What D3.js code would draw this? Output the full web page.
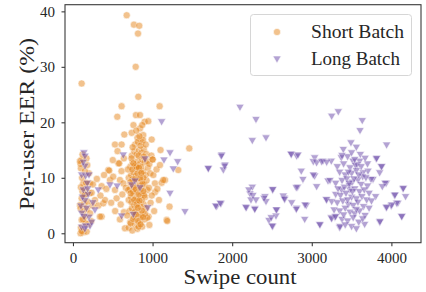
<!DOCTYPE html>
<html>
<head>
<meta charset="utf-8">
<script src="https://cdn.jsdelivr.net/npm/d3@7"></script>
<style>
  html, body { margin: 0; padding: 0; background: #fff; }
  svg { display: block; }
  text { font-family: "Liberation Serif", "DejaVu Serif", serif; fill: #262626; }
</style>
</head>
<body>
<svg id="chart" width="426" height="292"></svg>
<script>
// ---------- data ----------
const seriesNames = ["Short Batch", "Long Batch"];
const xTicks = [0, 1000, 2000, 3000, 4000];
const yTicks = [0, 10, 20, 30, 40];
const xLabel = "Swipe count";
const yLabel = "Per-user EER (%)";

const shortSwipes = [
  675,766,833,817,788,109,821,611,1089,557,791,842,900,946,842,737,645,883,989,528,1461,760,860,810,
  109,100,130,109,88,130,109,130,172,214,201,276,360,120,95,150,160,120,140,95,175,150,100,190,230,245,210,180,115,140,100,250,185,160,125,95,170,215,88,163,151,109,
  235,318,339,381,402,360,444,456,465,528,548,570,582,590,632,653,611,500,420,480,530,600,640,390,300,560,610,620,505,345,640,590,665,
  700,720,745,780,810,840,870,900,760,800,830,880,710,740,770,795,820,850,890,920,700,730,760,790,815,845,875,905,935,
  715,745,775,805,835,865,895,925,955,700,730,760,790,820,850,880,910,940,970,720,750,780,810,840,870,900,930,
  740,770,800,830,860,890,920,780,815,850,880,750,690,680,695,960,985,1000,1010,1030,1030,1050,1093,1114,1156,1134,1177,1185,1323,1001,
  975,950,990,1060,1020,960,935,785,825,855,765,795,825,855,885,735,865,805,775,745,915,835,795,870,755,905,825,1080,1100,1213,
  725,755,790,820,850,880,735,770,800,835,865,895,725,760,790,825,855,885,745,780,810,845,875,800,830,760,860,720,890,815
];
const shortEER = [
  39.3,37.6,37.4,36.0,30.0,27.0,24.6,22.9,22.9,21.0,21.3,21.3,20.1,20.2,18.9,18.1,17.8,17.7,16.9,16.0,15.3,19.5,16.5,17.2,
  13.2,11.7,9.0,6.3,5.1,3.9,2.4,0.2,0.3,9.0,10.8,6.0,3.0,14.2,12.5,11.2,8.0,7.5,6.8,4.5,4.4,3.0,1.0,1.6,2.2,5.0,7.2,12.3,10.0,5.3,8.3,8.8,5.7,1.8,2.5,0.0,13.5,3.6,13.0,9.1,7.0,0.4,
  7.3,5.0,3.0,5.4,6.0,8.5,11.4,11.3,9.6,7.8,6.3,12.6,12.6,9.6,9.0,0.9,16.0,13.2,8.0,5.5,4.0,5.2,3.8,10.5,9.8,14.8,11.2,7.0,10.2,6.8,13.5,2.5,8.2,
  1.0,2.0,0.5,1.5,0.8,2.0,1.2,2.5,3.0,3.5,3.2,3.8,4.0,4.5,5.0,4.2,5.5,4.8,5.2,4.5,6.0,6.5,7.0,6.2,7.5,6.8,7.2,6.5,7.8,
  8.0,8.8,8.2,9.0,8.5,9.3,8.8,9.5,8.2,10.0,10.5,11.0,10.3,11.5,10.8,11.2,10.5,11.8,10.8,12.0,12.8,12.2,13.0,12.5,13.3,12.8,13.0,
  14.0,14.8,14.2,15.0,14.5,15.2,14.3,16.0,16.5,15.8,16.8,15.5,11.5,3.2,7.8,12.5,14.0,13.3,10.5,7.4,9.0,11.5,12.3,9.1,9.6,9.6,2.4,2.2,11.4,13.3,
  5.5,3.0,6.8,8.0,4.0,1.5,2.8,2.5,1.2,3.0,9.5,11.8,10.0,12.0,10.0,13.5,6.0,6.0,3.8,11.5,16.0,17.5,18.5,19.5,7.5,3.5,14.0,6.0,15.0,4.8,
  1.8,2.6,3.4,2.2,1.6,2.9,5.6,6.0,5.2,5.9,4.1,6.8,7.2,8.4,7.9,7.0,8.0,7.6,9.7,9.8,10.8,9.9,8.9,12.0,11.8,12.6,10.9,9.2,13.8,4.6
];

const longSwipes = [
  138,151,151,109,159,201,130,151,100,276,109,201,109,159,214,318,465,632,130,180,120,170,190,140,185,150,250,235,
  905,779,842,938,758,611,737,1114,1219,1143,1315,1260,1219,1407,1700,555,
  2098,2299,2253,2425,1868,1700,1910,1889,2739,2810,2253,2508,2224,2236,2299,2412,2425,2642,2655,2170,2286,2747,2810,2559,2550,2462,2508,
  1805,1859,2822,2510,2554,2491,2503,2659,2805,2805,2911,2868,2889,2931,2743,2827,2210,2260,2400,1793,1851,1863,1905,2177,2283,
  3250,3333,3492,3396,3634,3606,3940,3036,3141,3245,3371,3518,3602,3572,3810,3873,3853,3706,3643,3769,3936,4146,4178,4040,3936,3998,4082,4133,
  3853,3664,3350,3099,3036,3204,3182,3245,3019,3061,3124,3187,3019,3229,3061,3375,3480,3187,3250,2915,3103,3250,3291,3354,3815,3878,3744,3920,
  3886,4150,4045,3802,4066,4003,3940,4128,3857,
  3320,3400,3450,3480,3550,3620,3700,3350,3420,3500,3560,3640,3680,3300,3380,3440,3510,3580,3620,3700,3330,3410,3470,3540,3600,3660,3720,
  3300,3360,3430,3500,3560,3630,3690,3750,3320,3390,3460,3520,3580,3650,3720,3280,3350,3420,3480,3540,3600,3670,3300,3380,3450,3520,3590,3640,
  3420,3500,3560,3460,3530,3590,3450,3510,3560,3400,3470,3540,3610,3670,3380,3560,3500
];
const longEER = [
  14.5,13.9,12.1,10.5,10.3,10.5,7.8,5.9,4.9,4.2,3.6,2.9,1.1,1.3,1.3,7.8,8.7,14.1,12.8,9.0,6.5,4.5,7.0,3.0,8.0,0.8,5.5,2.0,
  13.4,9.4,8.2,4.6,3.4,3.1,8.7,20.1,14.5,13.2,12.9,11.6,7.2,3.9,11.6,8.5,
  22.7,20.5,16.7,17.2,14.1,11.7,12.3,11.4,14.3,13.9,8.3,7.8,7.1,6.0,6.0,6.6,5.7,6.7,6.3,4.7,4.4,5.5,4.5,4.2,3.1,2.3,1.2,
  4.8,5.3,8.3,7.9,4.2,2.8,1.3,6.1,8.2,4.3,2.5,11.2,9.7,5.0,14.2,14.1,7.8,6.8,6.3,4.9,5.4,13.9,12.1,4.6,4.3,
  21.1,21.9,16.3,15.1,20.3,18.5,15.9,13.6,13.0,13.0,13.6,13.0,13.0,12.4,13.4,12.0,10.9,11.2,10.9,9.7,9.0,8.0,6.6,6.8,4.6,4.9,5.4,3.0,
  2.0,1.6,1.0,1.6,10.3,9.4,6.1,2.8,12.9,12.7,12.9,12.8,10.5,9.5,8.4,7.8,7.8,6.0,5.7,5.1,1.5,2.6,2.9,1.2,13.5,12.0,9.7,9.0,
  8.4,8.1,6.9,6.6,5.4,5.1,4.7,3.0,2.1,
  12.0,12.5,13.8,11.8,12.2,12.0,12.5,11.0,10.5,10.8,11.3,10.2,10.0,9.0,9.5,9.8,9.2,9.6,8.8,8.5,8.0,8.3,8.6,8.0,7.5,7.8,7.2,
  7.0,6.8,7.2,6.5,6.2,6.6,6.0,5.8,5.5,5.8,5.2,5.0,5.6,4.8,4.5,4.2,4.0,4.5,3.8,3.5,4.0,3.2,3.0,2.5,2.2,2.8,2.0,2.6,
  1.5,1.2,0.8,11.0,9.8,10.5,6.0,7.5,4.3,3.3,9.0,13.3,14.2,13.5,14.0,15.5,14.5
];

const seriesColors = ["rgb(230,135,30)", "rgb(105,72,168)"];
const markerAlpha = 0.5;

// ---------- layout ----------
const svg = d3.select("#chart");
const plot = { left: 65, right: 421, top: 4.7, bottom: 242.7 };

const x = d3.scaleLinear().domain([-100, 4372]).range([plot.left, plot.right]);
const y = d3.scaleLinear().domain([-1.7, 41.2]).range([plot.bottom, plot.top]);

const shortData = shortSwipes.map((v, i) => ({ x: v, y: shortEER[i] }));
const longData = longSwipes.map((v, i) => ({ x: v, y: longEER[i] }));

const gPts = svg.append("g");
gPts.selectAll("circle.s").data(shortData).join("circle")
  .attr("class", "s")
  .attr("cx", d => x(d.x)).attr("cy", d => y(d.y)).attr("r", 3.6)
  .attr("fill", seriesColors[0]).attr("stroke", "#fff").attr("stroke-width", 0.6)
  .attr("opacity", markerAlpha);

const tri = d3.symbol().type(d3.symbolTriangle).size(30);
gPts.selectAll("path.l").data(longData).join("path")
  .attr("class", "l")
  .attr("d", tri)
  .attr("transform", d => `translate(${x(d.x)},${y(d.y) - 0.6}) rotate(180)`)
  .attr("fill", seriesColors[1]).attr("stroke", "#fff").attr("stroke-width", 0.6)
  .attr("opacity", markerAlpha);

// frame
svg.append("rect")
  .attr("x", plot.left).attr("y", plot.top)
  .attr("width", plot.right - plot.left).attr("height", plot.bottom - plot.top)
  .attr("fill", "none").attr("stroke", "#3a3a3a").attr("stroke-width", 1.1);

// axes
const xAxis = d3.axisBottom(x).tickValues(xTicks).tickFormat(d3.format("d")).tickSize(3.5).tickPadding(6);
const gx = svg.append("g").attr("transform", `translate(0,${plot.bottom})`).call(xAxis);
gx.select(".domain").remove();
gx.selectAll(".tick line").attr("stroke", "#3a3a3a").attr("stroke-width", 1.1);
gx.selectAll(".tick text").attr("font-size", 15).attr("font-family", "Liberation Serif").attr("fill", "#444");

const yAxis = d3.axisLeft(y).tickValues(yTicks).tickFormat(d3.format("d")).tickSize(3.5).tickPadding(6.5);
const gy = svg.append("g").attr("transform", `translate(${plot.left},0)`).call(yAxis);
gy.select(".domain").remove();
gy.selectAll(".tick line").attr("stroke", "#3a3a3a").attr("stroke-width", 1.1);
gy.selectAll(".tick text").attr("font-size", 15).attr("font-family", "Liberation Serif").attr("fill", "#444");

// axis labels
svg.append("text")
  .attr("x", 240).attr("y", 283.5)
  .attr("text-anchor", "middle").attr("font-size", 21)
  .attr("textLength", 113).attr("lengthAdjust", "spacingAndGlyphs")
  .attr("fill", "#3a3a3a")
  .text(xLabel);

svg.append("text")
  .attr("transform", "translate(33.5,124) rotate(-90)")
  .attr("text-anchor", "middle").attr("font-size", 21)
  .attr("textLength", 172).attr("lengthAdjust", "spacingAndGlyphs")
  .attr("fill", "#3a3a3a")
  .text(yLabel);

// legend
const lg = svg.append("g");
lg.append("rect")
  .attr("x", 250.5).attr("y", 14.5).attr("width", 161).attr("height", 61).attr("rx", 3)
  .attr("fill", "#fff").attr("fill-opacity", 0.8).attr("stroke", "#d6d6d6").attr("stroke-width", 1);
const legendRows = [32, 59];
lg.append("circle").attr("cx", 277).attr("cy", legendRows[0]).attr("r", 3.6)
  .attr("fill", seriesColors[0]).attr("stroke", "#fff").attr("stroke-width", 0.6).attr("opacity", markerAlpha);
lg.append("path").attr("d", tri).attr("transform", `translate(277,${legendRows[1] - 0.6}) rotate(180)`)
  .attr("fill", seriesColors[1]).attr("stroke", "#fff").attr("stroke-width", 0.6).attr("opacity", markerAlpha);
const legendWidths = [93, 89];
seriesNames.forEach((n, i) => {
  lg.append("text").attr("x", 311).attr("y", legendRows[i] + 5.5)
    .attr("font-size", 18).attr("fill", "#3a3a3a")
    .attr("textLength", legendWidths[i]).attr("lengthAdjust", "spacingAndGlyphs")
    .text(n);
});
</script>
</body>
</html>
